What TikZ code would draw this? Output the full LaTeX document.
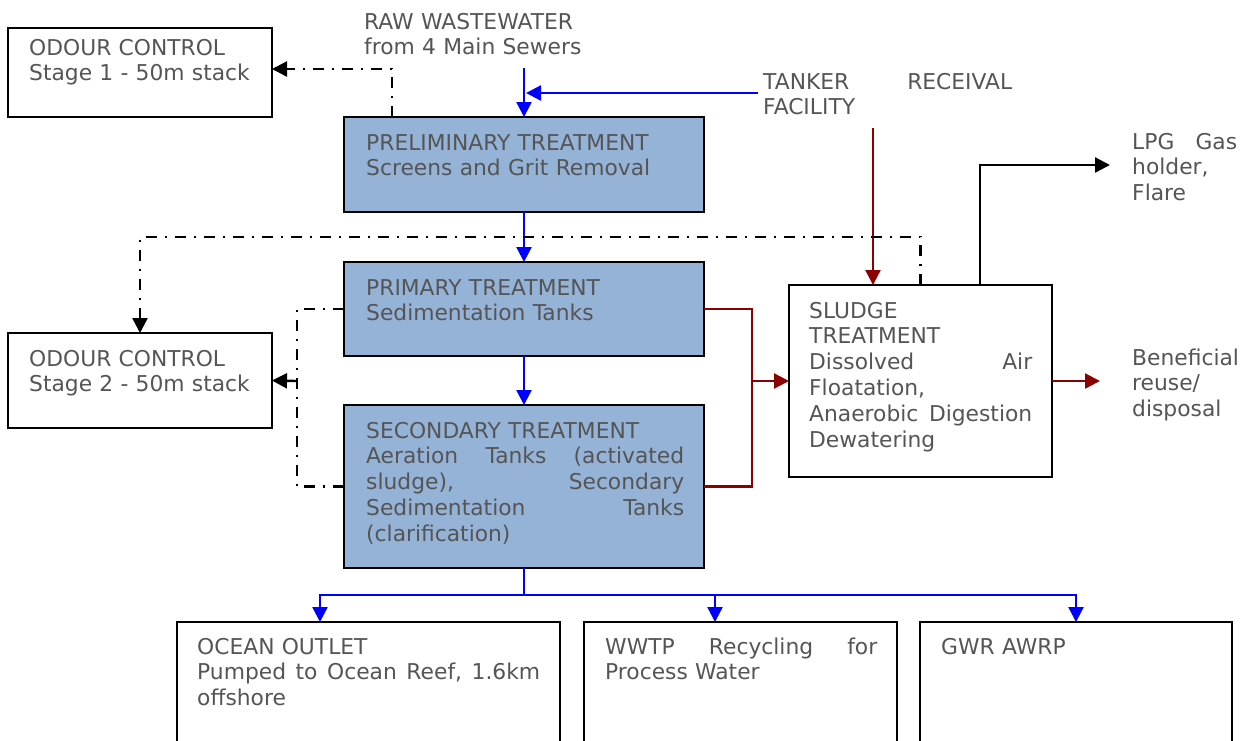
\documentclass[tikz,border=0pt]{standalone}
\usepackage{fontspec}
\setmainfont{DejaVu Sans}
\usetikzlibrary{arrows.meta,calc}
\definecolor{txtgray}{RGB}{85,85,85}
\definecolor{boxfill}{RGB}{149,179,215}
\definecolor{flowblue}{RGB}{0,0,255}
\definecolor{sludgered}{RGB}{139,0,0}

\begin{document}
\begin{tikzpicture}[x=1pt,y=-1pt,
  plainbox/.style={draw=black,line width=2.2pt,inner sep=0pt,outer sep=0pt,anchor=north west},
  stagebox/.style={plainbox,fill=boxfill},
  txt/.style={anchor=base west,inner sep=0pt,align=left,text=txtgray,
    font=\fontsize{21.8}{25.8}\selectfont},
  arrowed/.style={-{Triangle[length=15pt,width=15pt]}},
  waterline/.style={draw=flowblue,line width=2.4pt},
  sludgeline/.style={draw=sludgered,line width=2.4pt},
  gasline/.style={draw=black,line width=2.4pt},
  odourline/.style={draw=black,line width=2.4pt,dash pattern=on 11pt off 8pt on 2pt off 8pt},
]
\useasboundingbox (0,0) rectangle (1247,740);
\clip (0,0) rectangle (1247,740);

% boxes
\node[plainbox,minimum width=264pt,minimum height=89pt] (oc1) at (8,28) {};
\node[stagebox,minimum width=360pt,minimum height=95pt] (prelim) at (344,117) {};
\node[stagebox,minimum width=360pt,minimum height=94pt] (primary) at (344,262) {};
\node[plainbox,minimum width=264pt,minimum height=95pt] (oc2) at (8,333) {};
\node[stagebox,minimum width=360pt,minimum height=163pt] (secondary) at (344,405) {};
\node[plainbox,minimum width=263pt,minimum height=192pt] (sludgebox) at (789,285) {};
\node[plainbox,minimum width=383pt,minimum height=160pt] (ocean) at (177,622) {};
\node[plainbox,minimum width=313pt,minimum height=160pt] (wwtp) at (584,622) {};
\node[plainbox,minimum width=312pt,minimum height=160pt] (gwr) at (920,622) {};

% texts
\node[txt,text width=240pt] (oc1-t) at (29,55) {ODOUR CONTROL\\Stage 1 - 50m stack};
\node[txt,text width=230pt] (raw-t) at (364,29) {RAW WASTEWATER\\from 4 Main Sewers};
\node[txt,text width=320pt] (prelim-t) at (366,150) {PRELIMINARY TREATMENT\\Screens and Grit Removal};
\node[txt,text width=249pt] (tanker-t) at (763,89) {TANKER\hfill RECEIVAL\\FACILITY};
\node[txt,text width=105pt] (lpg-t) at (1132,149) {LPG\hfill Gas\\holder,\\Flare};
\node[txt,text width=320pt] (primary-t) at (366,295) {PRIMARY TREATMENT\\Sedimentation Tanks};
\node[txt,text width=223pt] (sludge-t) at (809,318) {SLUDGE\\TREATMENT\\Dissolved\hfill Air\\Floatation,\\Anaerobic\hfill Digestion\\Dewatering};
\node[txt,text width=240pt] (oc2-t) at (29,366) {ODOUR CONTROL\\Stage 2 - 50m stack};
\node[txt,text width=110pt] (reuse-t) at (1132,365) {Beneficial\\reuse/\\disposal};
\node[txt,text width=318pt] (secondary-t) at (366,438) {SECONDARY TREATMENT\\Aeration\hfill Tanks\hfill (activated\\sludge),\hfill Secondary\\Sedimentation\hfill Tanks\\(clarification)};
\node[txt,text width=343pt] (ocean-t) at (197,654) {OCEAN OUTLET\\Pumped\hfill to\hfill Ocean\hfill Reef,\hfill 1.6km\\offshore};
\node[txt,text width=272pt] (wwtp-t) at (605,654) {WWTP\hfill Recycling\hfill for\\Process Water};
\node[txt,text width=250pt] (gwr-t) at (941,654) {GWR AWRP};

% free ends and junctions
\coordinate (rawin) at (524,68);
\coordinate (tankerin) at (758,93);
\coordinate (rawjoin) at (526,93);
\coordinate (tankerred) at (873,128);
\coordinate (odtop) at (140,237);
\coordinate (odleft) at (297,381);
\coordinate (sj) at (752,381);
\coordinate (gasout) at (1110,165);
\coordinate (reuse) at (1100,381);
\coordinate (split) at (524,595);

% wastewater flow
\draw[waterline,arrowed] (rawin) -- (prelim.north);
\draw[waterline,arrowed] (tankerin) -- (rawjoin);
\draw[waterline,arrowed] (prelim.south) -- (primary.north);
\draw[waterline,arrowed] (primary.south) -- (secondary.north);
\draw[waterline] (secondary.south) -- (split);
\draw[waterline,arrowed] (split) -| ([xshift=-48.5pt]ocean.north);
\draw[waterline,arrowed] (split) -| ([xshift=-25.5pt]wwtp.north);
\draw[waterline,arrowed] (split) -| (gwr.north);

% sludge flow
\draw[sludgeline,arrowed] (tankerred) -- (tankerred |- sludgebox.north);
\draw[sludgeline] (primary.east) -| (sj);
\draw[sludgeline] (secondary.east) -| (sj);
\draw[sludgeline,arrowed] (sj) -- (sludgebox.west);
\draw[sludgeline,arrowed] (sludgebox.east) -- (reuse);

% biogas
\draw[gasline,arrowed] ([xshift=59.5pt]sludgebox.north) |- (gasout);

% odour extraction
\draw[odourline,arrowed] ([xshift=-132pt]prelim.north) |- ([yshift=3.5pt]oc1.east);
\draw[odourline,arrowed] (sludgebox.north) |- (odtop) -- (oc2.north);
\draw[odourline] (primary.west) -| (odleft);
\draw[odourline] (secondary.west) -| (odleft);
\draw[odourline,arrowed] (odleft) -- (oc2.east);
\end{tikzpicture}
\end{document}
